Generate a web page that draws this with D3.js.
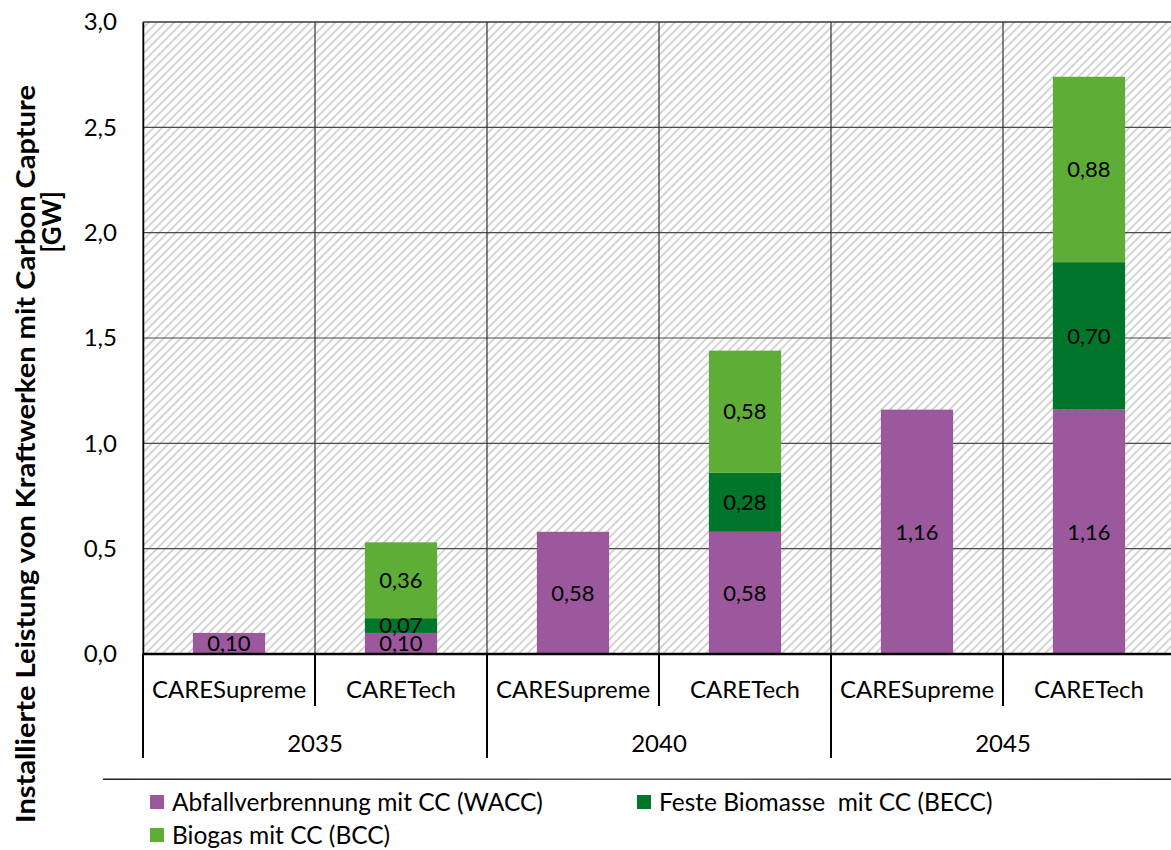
<!DOCTYPE html>
<meta charset="utf-8">
<style>
body { margin: 0; background: #fff; }
text { font-family: Lato, "Open Sans", sans-serif; fill: #000; }
.lbl { font-size: 22px; text-anchor: middle; }
.legend text { font-size: 24.5px; }
</style>
<body>
<script src="https://d3js.org/d3.v7.min.js"></script>
<script>

var years = ["2035", "2040", "2045"];
var scenarios = ["CARESupreme", "CARETech"];
var seriesNames = ["Abfallverbrennung mit CC (WACC)", "Feste Biomasse  mit CC (BECC)", "Biogas mit CC (BCC)"];
var seriesColors = ["#9c589c", "#00762b", "#5ead36"];
// one value per bar: 2035 Supreme, 2035 Tech, 2040 Supreme, ...
var wacc = [0.10, 0.10, 0.58, 0.58, 1.16, 1.16];
var becc = [0, 0.07, 0, 0.28, 0, 0.70];
var bcc = [0, 0.36, 0, 0.58, 0, 0.88];
var yTicks = [0, 0.5, 1, 1.5, 2, 2.5, 3];

var width = 1171, height = 850;
var pL = 143, pR = 1175, pT = 22, pB = 654;

var de = d3.formatLocale({ decimal: ",", thousands: ".", grouping: [3], currency: ["", " €"] });
var f1 = de.format(".1f"), f2 = de.format(".2f");

var rows = [];
years.forEach(function(yr, i) {
  scenarios.forEach(function(s, j) {
    var k = i * scenarios.length + j;
    rows.push({ year: yr, scen: s, wacc: wacc[k], becc: becc[k], bcc: bcc[k] });
  });
});
var keys = ["wacc", "becc", "bcc"];
var stacked = d3.stack().keys(keys)(rows);

var xYear = d3.scaleBand().domain(years).range([pL, pR]);
var xScen = d3.scaleBand().domain(scenarios).range([0, xYear.bandwidth()]);
var y = d3.scaleLinear().domain([0, 3]).range([pB, pT]);
var barW = xScen.bandwidth() * 0.42;

var svg = d3.select("body").append("svg")
    .attr("width", width)
    .attr("height", height);

var defs = svg.append("defs");
var pat = defs.append("pattern")
    .attr("id", "hatch")
    .attr("patternUnits", "userSpaceOnUse")
    .attr("width", 6).attr("height", 6)
    .attr("patternTransform", "rotate(45)");
pat.append("rect").attr("width", 6).attr("height", 6).attr("fill", "#fff");
pat.append("rect").attr("x", 0).attr("width", 2).attr("height", 6).attr("fill", "#d4d4d4");

svg.append("rect")
    .attr("x", pL).attr("y", pT)
    .attr("width", pR - pL).attr("height", pB - pT)
    .attr("fill", "url(#hatch)");

// horizontal gridlines
svg.append("g").selectAll("line")
    .data(yTicks.slice(1))
  .enter().append("line")
    .attr("x1", pL).attr("x2", pR)
    .attr("y1", function(d) { return y(d); }).attr("y2", function(d) { return y(d); })
    .attr("stroke", "#4a4a4a").attr("stroke-width", 1.2);

// vertical gridlines at every category boundary
var bounds = [];
years.forEach(function(yr) {
  scenarios.forEach(function(s) { bounds.push(xYear(yr) + xScen(s)); });
});
bounds.push(pR);
svg.append("g").selectAll("line")
    .data(bounds)
  .enter().append("line")
    .attr("x1", function(d) { return d; }).attr("x2", function(d) { return d; })
    .attr("y1", pT).attr("y2", pB)
    .attr("stroke", "#333").attr("stroke-width", 1.2);

// bars
var color = d3.scaleOrdinal().domain(keys).range(seriesColors);
var layer = svg.append("g").selectAll("g")
    .data(stacked)
  .enter().append("g")
    .attr("fill", function(d) { return color(d.key); });

function barX(d) {
  return xYear(d.data.year) + xScen(d.data.scen) + (xScen.bandwidth() - barW) / 2;
}
function nonZero(d) { return d.filter(function(p) { return p[1] - p[0] > 0; }); }

layer.selectAll("rect")
    .data(nonZero)
  .enter().append("rect")
    .attr("x", barX)
    .attr("y", function(d) { return y(d[1]); })
    .attr("width", barW)
    .attr("height", function(d) { return y(d[0]) - y(d[1]); });

layer.selectAll("text")
    .data(nonZero)
  .enter().append("text")
    .attr("class", "lbl")
    .attr("fill", "#000")
    .attr("x", function(d) { return barX(d) + barW / 2; })
    .attr("y", function(d) { return (y(d[0]) + y(d[1])) / 2; })
    .attr("dy", "0.35em")
    .text(function(d) { return f2(d[1] - d[0]); });

// y axis
var yAxis = svg.append("g")
    .attr("transform", "translate(" + pL + ",0)")
    .call(d3.axisLeft(y).tickValues(yTicks).tickFormat(f1).tickSize(0).tickPadding(26));
yAxis.select(".domain").attr("stroke", "#000").attr("stroke-width", 1.5);
yAxis.selectAll(".tick text")
    .attr("font-family", null)
    .attr("font-size", 24);

// top frame line
svg.append("line")
    .attr("x1", pL).attr("x2", pR).attr("y1", pT).attr("y2", pT)
    .attr("stroke", "#333").attr("stroke-width", 1.2);

// x axis line
svg.append("line")
    .attr("x1", pL).attr("x2", pR).attr("y1", pB).attr("y2", pB)
    .attr("stroke", "#000").attr("stroke-width", 2.5);

// multi-level category axis
var cat = svg.append("g");
bounds.forEach(function(b, i) {
  var major = i % scenarios.length === 0;
  cat.append("line")
      .attr("x1", b).attr("x2", b)
      .attr("y1", pB).attr("y2", major ? 758 : 706)
      .attr("stroke", "#000").attr("stroke-width", 2);
});
rows.forEach(function(r) {
  cat.append("text")
      .attr("x", xYear(r.year) + xScen(r.scen) + xScen.bandwidth() / 2)
      .attr("y", 690).attr("dy", "0.35em")
      .attr("text-anchor", "middle")
      .attr("font-size", 24)
      .text(r.scen);
});
years.forEach(function(yr) {
  cat.append("text")
      .attr("x", xYear(yr) + xYear.bandwidth() / 2)
      .attr("y", 744).attr("dy", "0.35em")
      .attr("text-anchor", "middle")
      .attr("font-size", 24)
      .text(yr);
});

// y axis title
svg.append("text")
    .attr("transform", "translate(26,454) rotate(-90)")
    .attr("text-anchor", "middle")
    .attr("font-weight", "bold")
    .attr("font-size", 26)
    .attr("dy", "0.35em")
    .attr("textLength", 738)
    .attr("lengthAdjust", "spacingAndGlyphs")
    .text("Installierte Leistung von Kraftwerken mit Carbon Capture");
svg.append("text")
    .attr("transform", "translate(52,222) rotate(-90)")
    .attr("text-anchor", "middle")
    .attr("font-weight", "bold")
    .attr("font-size", 26)
    .attr("dy", "0.35em")
    .text("[GW]");

// line above legend
var grad = defs.append("linearGradient").attr("id", "fade");
grad.append("stop").attr("offset", "0%").attr("stop-color", "#222");
grad.append("stop").attr("offset", "50%").attr("stop-color", "#555");
grad.append("stop").attr("offset", "100%").attr("stop-color", "#222");
svg.append("rect")
    .attr("x", 103).attr("y", 778.5).attr("width", width - 103).attr("height", 1.5)
    .attr("fill", "url(#fade)");

// legend
var legPos = [[150, 802], [637, 802], [150, 835]];
var leg = svg.append("g").attr("class", "legend")
  .selectAll("g")
    .data(seriesNames)
  .enter().append("g")
    .attr("transform", function(d, i) { return "translate(" + legPos[i][0] + "," + legPos[i][1] + ")"; });
leg.append("rect")
    .attr("x", 0).attr("y", -7).attr("width", 14).attr("height", 14)
    .attr("fill", function(d, i) { return seriesColors[i]; });
leg.append("text")
    .attr("x", 22).attr("dy", "0.35em")
    .style("white-space", "pre")
    .text(function(d) { return d; });

</script>
